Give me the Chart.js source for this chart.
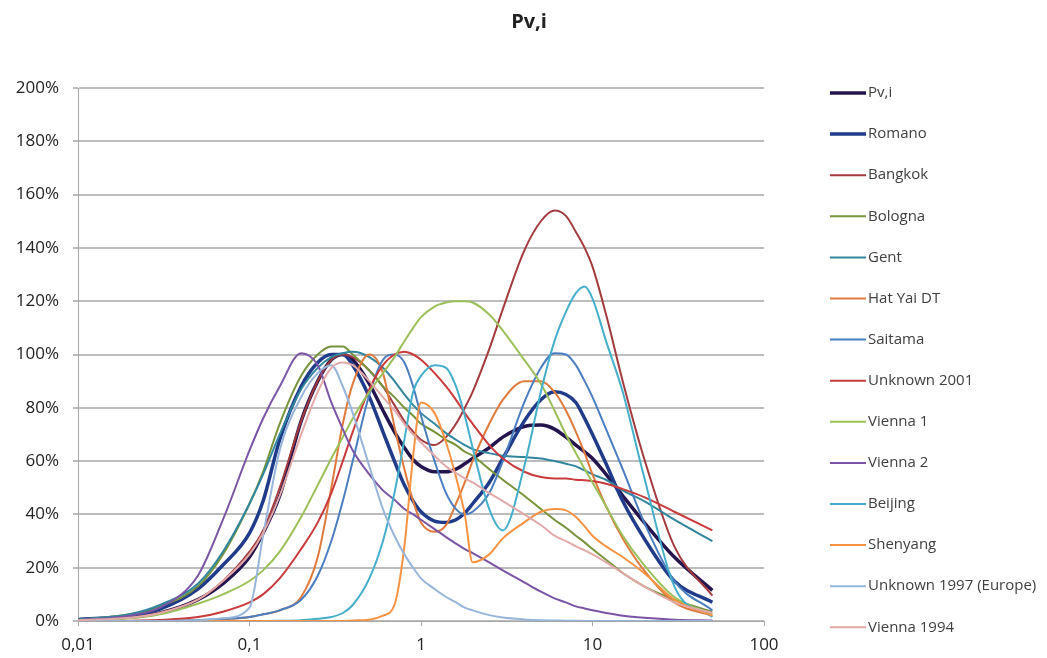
<!DOCTYPE html>
<html>
<head>
<meta charset="utf-8">
<script src="https://cdn.jsdelivr.net/npm/chart.js@4/dist/chart.umd.min.js"></script>
<style>
  html, body { margin: 0; padding: 0; background: #fff; }
</style>
</head>
<body>
<canvas id="chart" width="1047" height="658"></canvas>
<script>
// particle size (x, log axis) shared by every series
const sizes = [0.01,0.02,0.03,0.05,0.07,0.1,0.12,0.15,0.2,0.25,0.3,0.35,0.4,0.5,0.6,0.7,0.8,0.9,1,1.2,1.4,1.6,1.8,2,2.5,3,4,5,6,7,8,9,10,12,15,20,30,50];

// series values in %
const pvi         = [0.5,1.5,3,8,14,24,33,47,75,90,98,100,98,89,79,71,65,60.5,58,56,56,57,59,61,65,69,73,73.5,72,69,66,63.5,61,55,47,37,24,11.5];
const romano      = [0.5,2,4.5,12,21,33,45,68,88,97,100,100,96,84,71,60,51,45,41,37.5,37,38,40.5,44,52,61,75,83,86,85,82,76,70,59,45,31,15,7];
const bangkok     = [0.3,1.2,3,8,15,26,34,50,75,90,98,100,99,94,88,81,75,71,68,66,69,74,80,86,102,117,139,150,154,152,146,140,133,115,90,61,28,9.5];
const bologna     = [0.5,2.5,5.5,13,25,44,56,74,92,100,103,103,100,94,88,84,80,77,74,71,68,66,63.5,62,57,53,47,42,38,35,32,29.5,27,23,18,13,8,3.5];
const gent        = [0.5,2.5,6,14,26,44,55,70,87,95,99,100.5,101,99,95,90,85,81,78,74,70.5,68,66,64.5,63,62,61.5,61,60,59,58,56.5,55,53,49,45,38,30];
const hatYai      = [0,0,0.1,0.3,0.6,1.5,2.5,4,9,24,50,74,89,100,93,73,57,45,37,33.5,36,44,52,60,74,83,90,90,86,79,71,63,55,43,31,19,7,2];
const saitama     = [0,0,0.1,0.3,0.8,1.5,2.5,4,8,17,30,45,60,85,98,100,97,88,77,60,48,42,40,41,48,60,82,95,100.5,100,96,90,84,72,57,37,15,4];
const unknown2001 = [0,0.1,0.4,1.5,3.5,7,10,16,27,37,48,60,71,87,96,100,101,100,98,93,88,83,78,74,66,61,56,54,53.5,53.5,53,52.8,52.5,51.5,49.5,46.5,41,34];
const vienna1     = [0.2,1,2.5,6.5,10,15,19,26,39,51,61,69,76,86,93,99,105,110,114,118,119.5,120,120,119.5,115,109,98,89,79,70,63,57,52,43,32,21,9,2.5];
const vienna2     = [0.3,2,5,17,38,64,76,88,100.5,96,82,72,64,55,49,45.5,42,40,38,34.5,31.5,29,27,25.5,22,19,14.5,11,8.5,7,5.5,4.7,4,3,2,1.2,0.5,0.2];
const beijing     = [0,0,0,0,0,0,0,0.1,0.3,0.8,1.5,3,6,16,30,48,68,86,92,96,95,88,77,65,42,34,58,86,105,116,123,125.5,121,105,86,54,13,1.5];
const shenyang    = [0,0,0,0,0,0,0,0,0,0,0,0,0.2,0.5,2,6,28,62,82,78,67,54,40,22,25,31,37,41,42,41.5,39,35.5,32,28,24,18,8,2];
const unknown1997 = [0,0,0,0.3,1,5,32,64,84,93,96,88,78,58,42,32,25,20,16,12,9,7,5,4,2.2,1.3,0.6,0.3,0.2,0.1,0.1,0,0,0,0,0,0,0];
const vienna1994  = [0.3,1.2,3,8,15,25,33,47,70,86,95,97,96,90,84,79,74,70,67,62,58,55.5,53.5,52,48,45,40,36,32,30,28,26.5,25,22,18,13,7,3];

const seriesNames = ['Pv,i','Romano','Bangkok','Bologna','Gent','Hat Yai DT','Saitama','Unknown 2001','Vienna 1','Vienna 2','Beijing','Shenyang','Unknown 1997 (Europe)','Vienna 1994'];
const xTicks = [0.01, 0.1, 1, 10, 100];
const xTickLabels = ['0,01', '0,1', '1', '10', '100'];

const seriesData = [pvi, romano, bangkok, bologna, gent, hatYai, saitama, unknown2001, vienna1, vienna2, beijing, shenyang, unknown1997, vienna1994];
const colors = ['#25154F','#1F3B8A','#A33B3E','#77933C','#31869E','#E07A3C','#4A7EC0','#C93A3C','#9BC05A','#7B55A5','#45AFCB','#F89343','#97B5DA','#E3A9A9'];
const widths = [3.5, 3.5, 2, 2, 2, 2, 2, 2, 2, 2, 2, 2, 2, 2];

const datasets = seriesData.map((vals, i) => ({
    label: seriesNames[i],
    data: sizes.map((x, j) => ({ x: x, y: vals[j] })),
    borderColor: colors[i],
    backgroundColor: colors[i],
    borderWidth: widths[i],
    showLine: true,
    pointRadius: 0,
    cubicInterpolationMode: 'monotone',
    order: seriesData.length - i
}));

// title + legend on the right, drawn from the chart's own labels/colours
const sideLegend = {
    id: 'sideLegend',
    afterDraw(chart) {
        const ctx = chart.ctx;
        ctx.save();
        ctx.fillStyle = '#222';
        ctx.font = 'bold 20px "Open Sans"';
        ctx.textAlign = 'center';
        ctx.textBaseline = 'middle';
        ctx.fillText('Pv,i', 529, 22);

        ctx.textAlign = 'left';
        ctx.font = '15px "Open Sans"';
        chart.data.datasets.forEach((ds, i) => {
            const y = 93 + i * 41.1;
            ctx.strokeStyle = ds.borderColor;
            ctx.lineWidth = ds.borderWidth;
            ctx.beginPath();
            ctx.moveTo(830, y);
            ctx.lineTo(866, y);
            ctx.stroke();
            ctx.fillStyle = '#404040';
            ctx.fillText(ds.label, 868, y);
        });
        ctx.restore();
    }
};

new Chart(document.getElementById('chart'), {
    type: 'scatter',
    data: { datasets: datasets },
    plugins: [sideLegend],
    options: {
        responsive: false,
        animation: false,
        devicePixelRatio: 1,
        layout: { padding: { left: 0, right: 283, top: 88, bottom: 0 } },
        plugins: {
            legend: { display: false },
            tooltip: { enabled: false },
            title: { display: false }
        },
        scales: {
            x: {
                type: 'logarithmic',
                min: 0.01,
                max: 100,
                afterBuildTicks: (scale) => { scale.ticks = xTicks.map(v => ({ value: v })); },
                afterFit: (scale) => { scale.height = 37; },
                ticks: {
                    autoSkip: false,
                    maxRotation: 0,
                    padding: 9,
                    color: '#222',
                    font: { family: 'Open Sans', size: 17 },
                    callback: (value, index) => xTickLabels[index]
                },
                grid: { drawOnChartArea: false, drawTicks: true, tickLength: 5, color: '#A6A6A6' },
                border: { display: true, color: '#A6A6A6', width: 1 }
            },
            y: {
                min: 0,
                max: 200,
                afterFit: (scale) => { scale.width = 78; },
                ticks: {
                    stepSize: 20,
                    padding: 14,
                    color: '#222',
                    font: { family: 'Open Sans', size: 17 },
                    callback: (value) => value + '%'
                },
                grid: { color: '#BDBDBD', lineWidth: 2, tickLength: 5 },
                border: { display: true, color: '#A6A6A6', width: 1 }
            }
        }
    }
});
</script>
</body>
</html>
